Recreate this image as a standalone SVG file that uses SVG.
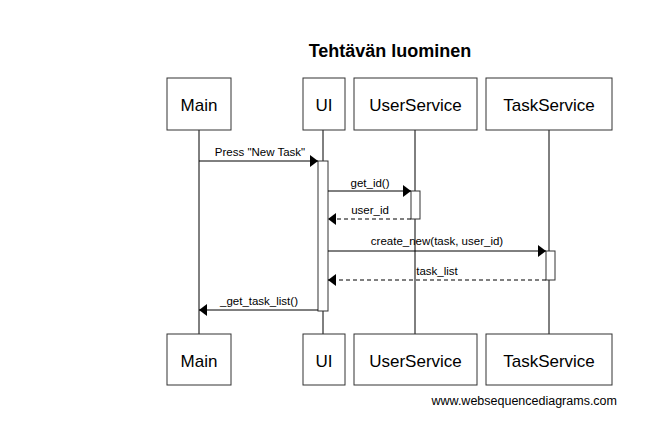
<svg xmlns="http://www.w3.org/2000/svg" width="667" height="431" viewBox="0 0 667 431">
<style>
.box{fill:#fff;stroke:#333;stroke-width:1}
.bt{font-family:"Liberation Sans",Arial,sans-serif;font-size:17px;fill:#000;text-anchor:middle}
.ml{font-family:"Liberation Sans",Arial,sans-serif;font-size:11.5px;fill:#000;text-anchor:middle}
.life{stroke:#000;stroke-width:1}
.act{fill:#fff;stroke:#333;stroke-width:1}
.msg{stroke:#000;stroke-width:1;fill:none;marker-end:url(#ah)}
.ret{stroke:#000;stroke-width:1;fill:none;stroke-dasharray:4,3;marker-end:url(#ah)}
</style>
<defs>
<marker id="ah" viewBox="0 0 8 12" refX="8" refY="6" markerWidth="8" markerHeight="12" markerUnits="userSpaceOnUse" orient="auto">
<path d="M0,0 L8,6 L0,12 z" fill="#000"/>
</marker>
</defs>
<rect width="667" height="431" fill="#fff"/>
<text x="390" y="57" font-family="Liberation Sans,Arial,sans-serif" font-size="18" font-weight="bold" text-anchor="middle">Tehtävän luominen</text>
<g id="lifelines">
<line class="life" x1="199" y1="130" x2="199" y2="334"/>
<line class="life" x1="323" y1="130" x2="323" y2="334"/>
<line class="life" x1="415" y1="130" x2="415" y2="334"/>
<line class="life" x1="549" y1="130" x2="549" y2="334"/>
</g>
<g id="activations">
<rect class="act" x="318" y="161" width="10" height="150"/>
<rect class="act" x="411" y="191" width="9" height="28"/>
<rect class="act" x="546" y="251" width="9" height="29"/>
</g>
<g id="connectors">
<line class="msg" x1="199" y1="161" x2="318" y2="161"/>
<text class="ml" x="260" y="156">Press "New Task"</text>
<line class="msg" x1="328" y1="191" x2="411" y2="191"/>
<text class="ml" x="370" y="187">get_id()</text>
<line class="ret" x1="411" y1="219" x2="328" y2="219"/>
<text class="ml" x="370" y="214">user_id</text>
<line class="msg" x1="328" y1="251" x2="546" y2="251"/>
<text class="ml" x="437" y="245">create_new(task, user_id)</text>
<line class="ret" x1="546" y1="280" x2="328" y2="280"/>
<text class="ml" x="437" y="275">task_list</text>
<line class="msg" x1="318" y1="310" x2="199" y2="310"/>
<text class="ml" x="259" y="305">_get_task_list()</text>
</g>
<g id="Main">
<rect class="box" x="167" y="78" width="64" height="52"/>
<text class="bt" x="199" y="111">Main</text>
</g>
<g id="UI">
<rect class="box" x="303" y="78" width="42" height="52"/>
<text class="bt" x="324" y="111">UI</text>
</g>
<g id="UserService">
<rect class="box" x="354" y="78" width="123" height="52"/>
<text class="bt" x="415.5" y="111">UserService</text>
</g>
<g id="TaskService">
<rect class="box" x="486" y="78" width="126" height="52"/>
<text class="bt" x="549" y="111">TaskService</text>
</g>
<g id="Main-bottom">
<rect class="box" x="167" y="334" width="64" height="51"/>
<text class="bt" x="199" y="367">Main</text>
</g>
<g id="UI-bottom">
<rect class="box" x="303" y="334" width="42" height="51"/>
<text class="bt" x="324" y="367">UI</text>
</g>
<g id="UserService-bottom">
<rect class="box" x="354" y="334" width="123" height="51"/>
<text class="bt" x="415.5" y="367">UserService</text>
</g>
<g id="TaskService-bottom">
<rect class="box" x="486" y="334" width="126" height="51"/>
<text class="bt" x="549" y="367">TaskService</text>
</g>
<text x="617" y="405" font-family="Liberation Sans,Arial,sans-serif" font-size="12.5" text-anchor="end">www.websequencediagrams.com</text>
</svg>
